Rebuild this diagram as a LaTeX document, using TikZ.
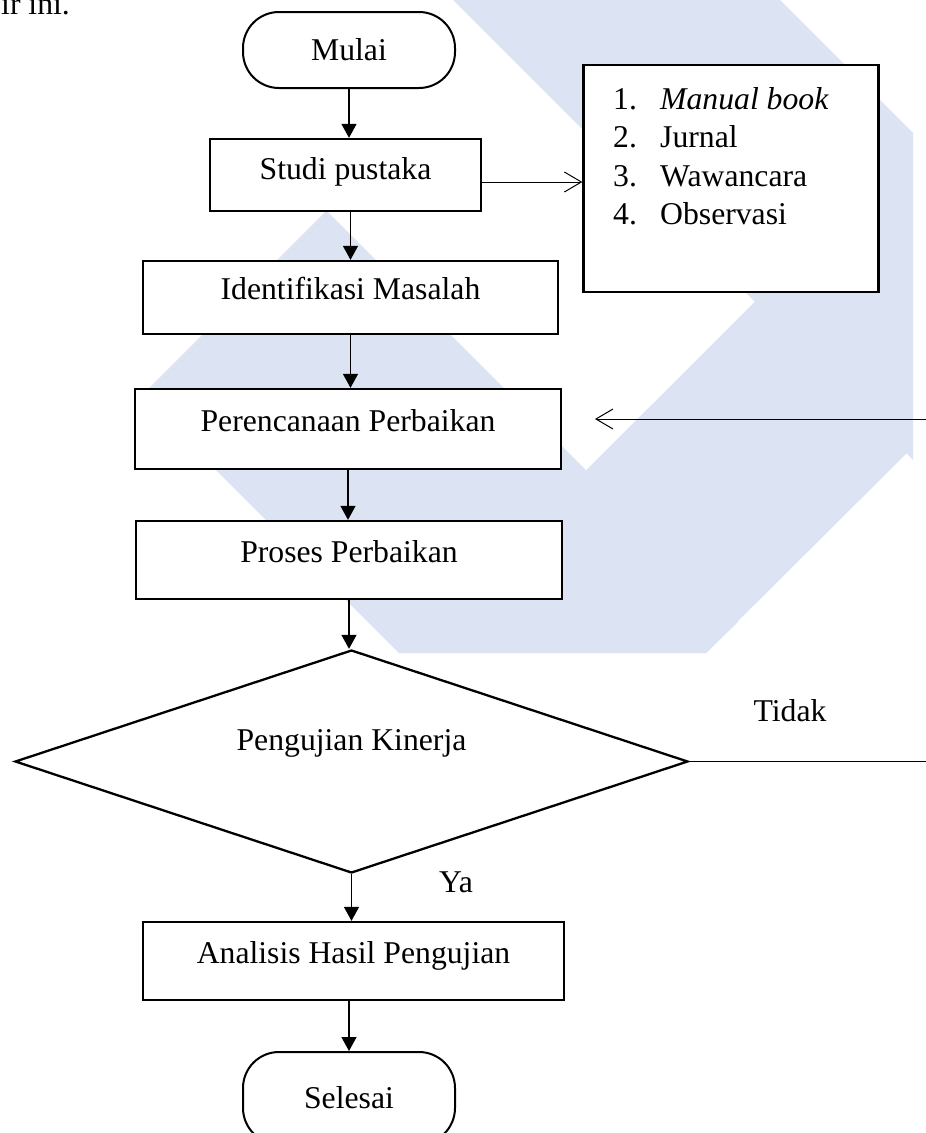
\documentclass[tikz,border=0pt]{standalone}
\usepackage{fontspec}
\setmainfont{Liberation Serif}
\usetikzlibrary{shapes.geometric,arrows.meta}
\definecolor{latar}{RGB}{220,227,242}

\begin{document}
\begin{tikzpicture}[x=1pt,y=-1pt,
  font=\fontsize{31.7}{38}\selectfont,
  procbox/.style={rectangle,draw,fill=white,line width=2.3pt,inner sep=0pt,text height=0.7em,text depth=0.28em},
  termbox/.style={rectangle,draw,fill=white,line width=2pt,inner sep=0pt,rounded corners=36pt,minimum width=212pt},
  flow/.style={-{Triangle[length=14pt,width=15pt]},line width=1.3pt},
  openarrow/.style={-{Straight Barb[length=17pt,width=20pt]},line width=1pt}]

\useasboundingbox (0,0) rectangle (926,1133);

%--------------------------------------------------- watermark
\fill [latar] (453,0) -- (780,0) -- (913,133) -- (913,460) -- cycle;
\fill [latar] (913,144) -- (913,447) -- (706,653) -- (403,653) -- cycle;
\fill [latar] (326.5,210.5) -- (141.5,395.5) -- (399,653) -- (706,653) -- (738,622) -- cycle;

\node (teksatas) at (1,14) [anchor=base west,inner sep=0pt] {ir ini.};

%-----------------------------------------------------
\node (mulai) at (349,50) [termbox,minimum height=76pt] {Mulai};
\node (studi) at (345.5,175) [procbox,minimum width=271pt,minimum height=72pt,text height=1.15em] {Studi pustaka};
\node (identifikasi) at (350.5,297.5) [procbox,minimum width=415pt,minimum height=73pt] {Identifikasi Masalah};
\node (perencanaan) at (348,429) [procbox,minimum width=426pt,minimum height=80pt] {Perencanaan Perbaikan};
\node (proses) at (349,560) [procbox,minimum width=426pt,minimum height=78pt] {Proses Perbaikan};
\node (pengujian) at (351.5,761.5) [diamond,draw,fill=white,line width=2.3pt,inner sep=0pt,shape aspect=3.02,minimum width=673pt,minimum height=223pt,text height=0.7em,text depth=3em] {Pengujian Kinerja};
\node (analisis) at (353.5,961) [procbox,minimum width=421pt,minimum height=78pt] {Analisis Hasil Pengujian};
\node (selesai) at (349,1098) [termbox,minimum height=92pt] {Selesai};

%-----------------------------------------------------
\node (sumber) at (731,178.5) [rectangle,draw,fill=white,line width=2.3pt,minimum width=295pt,minimum height=227pt] {};
\node (sumberteks) at (613,87) [anchor=north west,inner sep=0pt,align=left,font=\fontsize{31.7}{38.5}\selectfont]
  {\makebox[47pt][l]{1.}\textit{Manual book}\\
   \makebox[47pt][l]{2.}Jurnal\\
   \makebox[47pt][l]{3.}Wawancara\\
   \makebox[47pt][l]{4.}Observasi};

\node (tidak) at (790,711) {Tidak};
\node (ya) at (456,882) {Ya};

\coordinate (tidakujung) at (935,761.5);
\coordinate (kembaliawal) at (935,419);
\coordinate (kembaliakhir) at (595,419);

%-----------------------------------------------------
\draw [flow] (mulai.south) -- (mulai.south |- studi.north);
\draw [flow] (identifikasi.north |- studi.south) -- (identifikasi.north);
\draw [flow] (identifikasi.south) -- (identifikasi.south |- perencanaan.north);
\draw [flow] (perencanaan.south) -- (perencanaan.south |- proses.north);
\draw [flow] (proses.south) -- (proses.south |- pengujian.north);
\draw [flow] (pengujian.south) -- (pengujian.south |- analisis.north);
\draw [flow] (selesai.north |- analisis.south) -- (selesai.north);

\draw [openarrow] ([yshift=-7pt]studi.east) -- ([yshift=-7pt]studi.east -| sumber.west);
\draw [line width=1.3pt] (pengujian.east) -- (tidakujung);
\draw [openarrow] (kembaliawal) -- (kembaliakhir);

\end{tikzpicture}
\end{document}
